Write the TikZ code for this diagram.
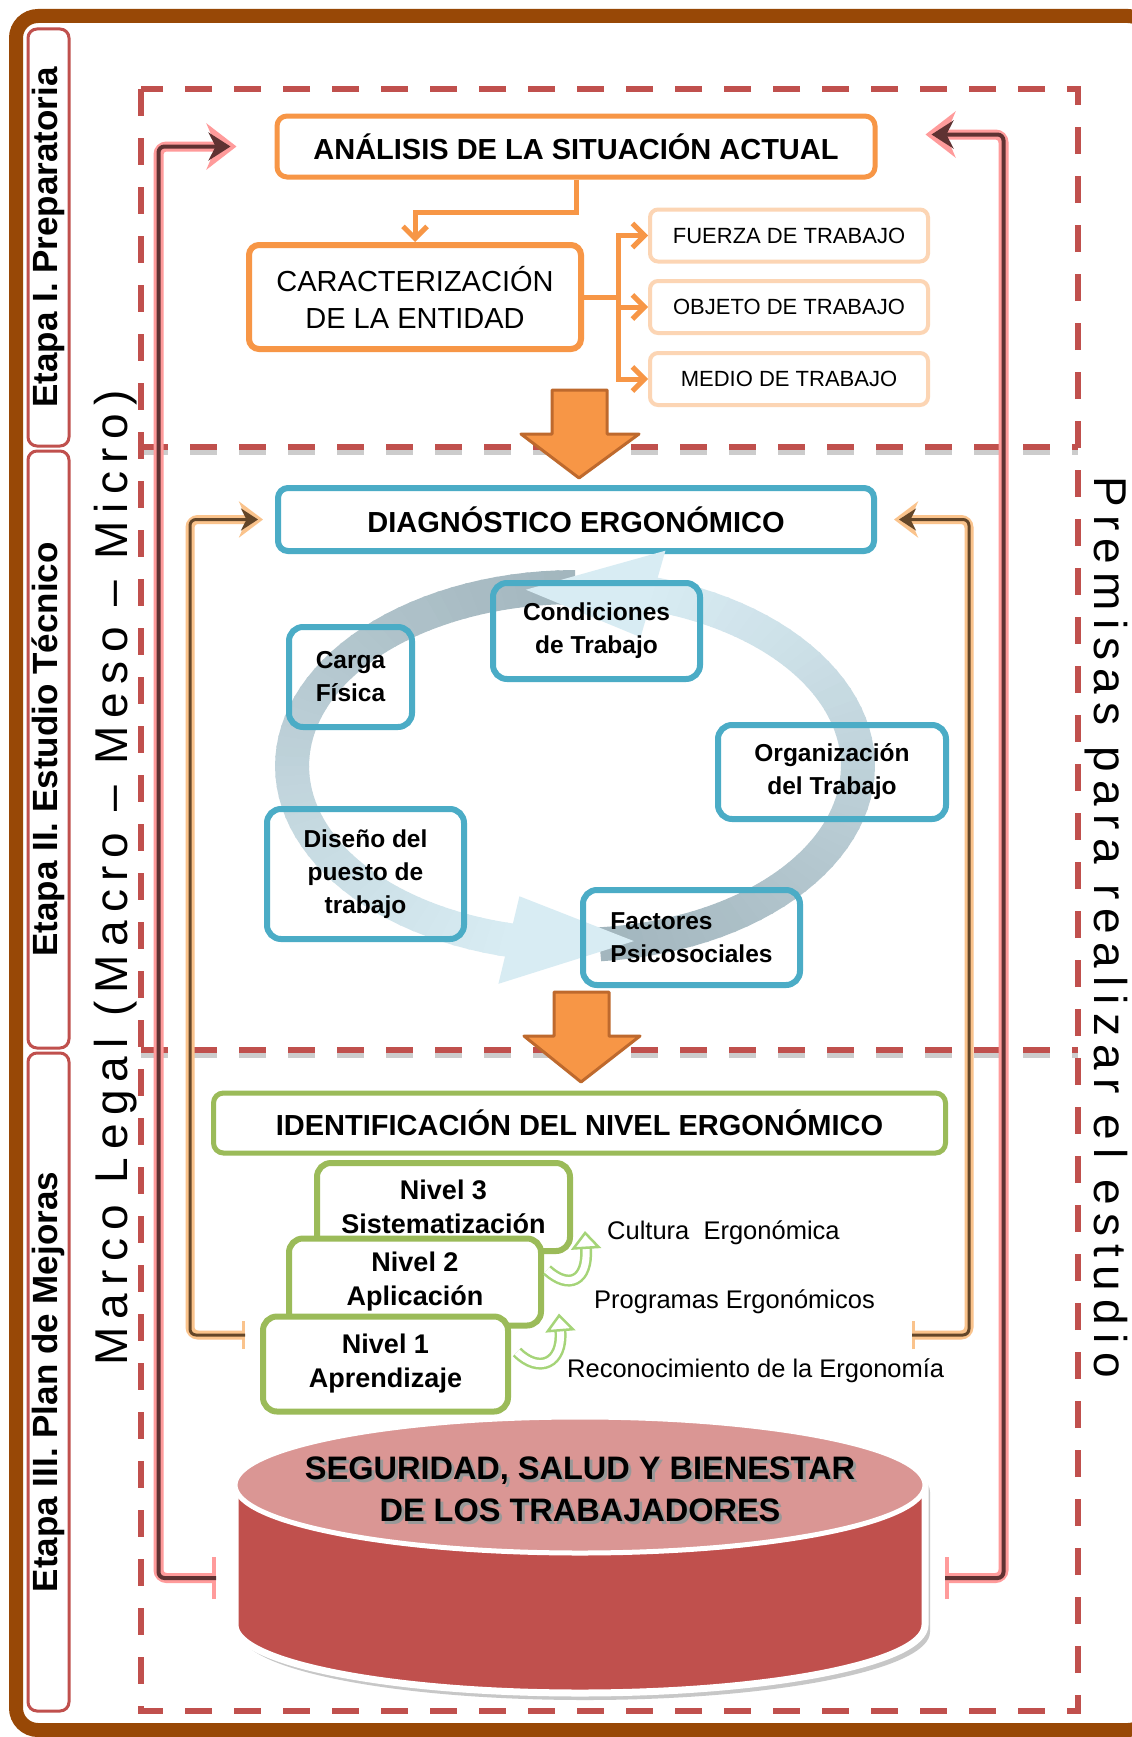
\documentclass[tikz,border=0pt]{standalone}
\usepackage{fontspec}
\setmainfont{Liberation Sans}
\newfontfamily\spacedfont[LetterSpace=18]{Liberation Sans}
\usepackage{tikz}
\usetikzlibrary{arrows.meta}
\usetikzlibrary{positioning}
\usetikzlibrary{calc}

\definecolor{FrameBrown}{RGB}{152,72,6}
\definecolor{DashRed}{RGB}{192,80,77}
\definecolor{OrangeMain}{RGB}{247,150,70}
\definecolor{OrangeSoft}{RGB}{252,213,180}
\definecolor{OrangeEdge}{RGB}{190,105,45}
\definecolor{BlueMain}{RGB}{75,172,198}
\definecolor{GreenMain}{RGB}{155,187,89}
\definecolor{GreenSoft}{RGB}{165,212,120}
\definecolor{PinkGlow}{RGB}{255,155,155}
\definecolor{PinkCore}{RGB}{95,50,50}
\definecolor{OrangeGlow}{RGB}{250,195,140}
\definecolor{OrangeCore}{RGB}{100,70,40}
\definecolor{RingDark}{RGB}{163,182,190}
\definecolor{RingLight}{RGB}{216,236,243}
\definecolor{CylTop}{RGB}{218,150,148}
\definecolor{CylBody}{RGB}{192,80,77}

\tikzstyle{stagebox} = [draw=DashRed, line width=3, rounded corners=9, rotate=90, minimum height=41, inner sep=0, font=\fontsize{35}{40}\selectfont\bfseries]
\tikzstyle{dashline} = [DashRed, line width=6, dash pattern=on 27pt off 22pt]
\tikzstyle{dashshadow} = [black!20, line width=6, dash pattern=on 27pt off 22pt]
\tikzstyle{headbox} = [line width=5, rounded corners=10, fill=white, inner sep=0, font=\fontsize{29}{35}\selectfont\bfseries]
\tikzstyle{softbox} = [draw=OrangeSoft, line width=4, rounded corners=8, fill=white, minimum width=278, minimum height=52, inner sep=0, font=\fontsize{22}{26}\selectfont]
\tikzstyle{cyclebox} = [draw=BlueMain, line width=6, rounded corners=14, inner sep=0, align=center, font=\fontsize{24.5}{33}\selectfont\bfseries]
\tikzstyle{nivelbox} = [draw=GreenMain, line width=6, rounded corners=14, fill=white, inner sep=0, align=center, font=\fontsize{27}{34}\selectfont\bfseries]
\tikzstyle{lvllabel} = [anchor=west, inner sep=0, font=\fontsize{25.5}{30}\selectfont]
\tikzstyle{lvlarrow} = [draw=GreenSoft, line width=2.5, double=white, double distance=7, -{Triangle[open, length=18pt, width=30pt]}]
\tikzstyle{orangeline} = [OrangeMain, line width=5]
\tikzstyle{orangearrow} = [orangeline, -{Straight Barb[length=12pt, width=24pt]}]
\tikzstyle{pinkglow} = [PinkGlow, line width=10, rounded corners=8]
\tikzstyle{pinkcore} = [PinkCore, line width=4, rounded corners=6]
\tikzstyle{orangeglow} = [OrangeGlow, line width=9, rounded corners=8]
\tikzstyle{orangecore} = [OrangeCore, line width=3, rounded corners=6]
\tikzstyle{blockarrow} = [fill=OrangeMain, draw=OrangeEdge, line width=3, line join=round]
\tikzstyle{bigtext} = [font=\spacedfont\fontsize{46}{54}\selectfont, inner sep=0, anchor=base]
\tikzstyle{cyltext} = [align=center, font=\fontsize{32.5}{42}\selectfont\bfseries]

\begin{document}
\begin{tikzpicture}[x=1pt, y=-1pt]
\useasboundingbox (0,0) rectangle (1132,1737);
\fill[white] (0,0) rectangle (1132,1737);

% marco exterior
\draw[FrameBrown, line width=14, rounded corners=22] (16,16) rectangle (1150,1730);

% etapas
\node[stagebox, minimum width=417] (etapa1) at (48.5,237.5) {Etapa I. Preparatoria};
\node[stagebox, minimum width=597] (etapa2) at (48.5,749.5) {Etapa II. Estudio Técnico};
\node[stagebox, minimum width=658] (etapa3) at (48.5,1382) {Etapa III. Plan de Mejoras};

% recuadro discontinuo
\draw[dashshadow] (141,452) -- (1078,452);
\draw[dashshadow] (141,1055) -- (1078,1055);
\draw[dashline] (141,89) rectangle (1078,1711);
\draw[dashline] (141,447) -- (1078,447);
\draw[dashline] (141,1050) -- (1078,1050);

\node[bigtext, rotate=90] (marco) at (127,878) {Marco Legal (Macro – Meso – Micro)};
\node[bigtext, rotate=-90] (premisas) at (1094,927) {Premisas para realizar el estudio};

% Etapa I
\node[headbox, draw=OrangeMain, minimum width=598, minimum height=61] (analisis) at (576,146.5) {ANÁLISIS DE LA SITUACIÓN ACTUAL};
\node[headbox, draw=OrangeMain, line width=6, minimum width=332, minimum height=104, align=center, font=\fontsize{29}{37}\selectfont] (carac) at (415,297) {CARACTERIZACIÓN\\DE LA ENTIDAD};
\node[softbox] (fuerza) at (789,235.5) {FUERZA DE TRABAJO};
\node[softbox] (objeto) at (789,307) {OBJETO DE TRABAJO};
\node[softbox] (medio) at (789,379) {MEDIO DE TRABAJO};

\draw[orangearrow] (analisis.south) -- ++(0,33) -| (carac.north);
\draw[orangeline] (carac.east) -- ++(34,0) coordinate (ramal);
\draw[orangearrow] (ramal) |- (fuerza.west);
\draw[orangearrow] (ramal) |- (objeto.west);
\draw[orangearrow] (ramal) |- (medio.west);

\filldraw[blockarrow] (552,390) -- (607,390) -- (607,434) -- (639,434) -- (579,478) -- (521,434) -- (552,434) -- cycle;

% Etapa II
\node[headbox, draw=BlueMain, line width=6, minimum width=596, minimum height=63] (diag) at (576,519.5) {DIAGNÓSTICO ERGONÓMICO};

% anillo
\foreach \a in {-85,-82,...,71} {
  \pgfmathtruncatemacro\p{(\a+85)/159*100}
  \fill[RingLight!\p!RingDark] ({575+300*cos(\a)},{766-196*sin(\a)}) -- ({575+300*cos(\a+3.5)},{766-196*sin(\a+3.5)})
    -- ({575+266*cos(\a+3.5)},{766-162*sin(\a+3.5)}) -- ({575+266*cos(\a)},{766-162*sin(\a)}) -- cycle;
}
\foreach \a in {90,93,...,255} {
  \pgfmathtruncatemacro\p{(\a-90)/165*100}
  \fill[RingLight!\p!RingDark] ({575+300*cos(\a)},{766-196*sin(\a)}) -- ({575+300*cos(\a+3.5)},{766-196*sin(\a+3.5)})
    -- ({575+266*cos(\a+3.5)},{766-162*sin(\a+3.5)}) -- ({575+266*cos(\a)},{766-162*sin(\a)}) -- cycle;
}
\fill[RingLight] ({575+328*cos(74)},{766-224*sin(74)}) -- ({575+283*cos(100)},{766-179*sin(100)}) -- ({575+238*cos(74)},{766-134*sin(74)}) -- cycle;
\fill[RingLight] ({575+328*cos(256.5)},{766-224*sin(256.5)}) -- ({575+283*cos(282)},{766-179*sin(282)}) -- ({575+238*cos(256.5)},{766-134*sin(256.5)}) -- cycle;

\node[cyclebox, minimum width=123, minimum height=100] (carga) at (350.5,677) {Carga\\Física};
\node[cyclebox, minimum width=207, minimum height=96] (condic) at (596.5,631) {Condiciones\\de Trabajo};
\node[cyclebox, minimum width=228, minimum height=94] (organiz) at (832,772) {Organización\\del Trabajo};
\node[cyclebox, minimum width=197, minimum height=130] (diseno) at (365.5,874) {Diseño del\\puesto de\\trabajo};
\node[cyclebox, minimum width=217, minimum height=95, align=left] (factores) at (691.5,937.5) {Factores\\Psicosociales};

\filldraw[blockarrow] (554,992) -- (609,992) -- (609,1036) -- (640,1036) -- (581,1082) -- (524,1036) -- (554,1036) -- cycle;

% Etapa III
\node[headbox, draw=GreenMain, minimum width=732, minimum height=60] (ident) at (579.5,1123) {IDENTIFICACIÓN DEL NIVEL ERGONÓMICO};
\node[nivelbox, minimum width=253, minimum height=88] (nivel3) at (443.5,1207) {Nivel 3\\Sistematización};
\node[nivelbox, minimum width=252, minimum height=87] (nivel2) at (415,1282) {Nivel 2\\Aplicación};
\node[nivelbox, minimum width=245, minimum height=95] (nivel1) at (385.5,1364) {Nivel 1\\Aprendizaje};

\draw[lvlarrow] ($(nivel1.east)+(6,-12)$) .. controls +(22,22) and +(4,50) .. ($(nivel2.south east)+(15,-15)$);
\draw[lvlarrow] ($(nivel2.east)+(3,-12)$) .. controls +(22,20) and +(3,50) .. ($(nivel3.south east)+(12,-23)$);

\node[lvllabel] (cultura) at (607,1233) {Cultura\ \ Ergonómica};
\node[lvllabel] (programas) at (594,1302) {Programas Ergonómicos};
\node[lvllabel] (reconoc) at (567,1371) {Reconocimiento de la Ergonomía};

% cilindro
\begin{scope}[shift={(5,7)}]
  \fill[black!22] (235,1485) arc[start angle=180, end angle=360, x radius=345, y radius=68] -- (925,1625) arc[start angle=0, end angle=180, x radius=345, y radius=68] -- cycle;
\end{scope}
\fill[CylBody] (235,1485) -- (235,1625) arc[start angle=180, end angle=0, x radius=345, y radius=68] -- (925,1485) -- cycle;
\draw[white, line width=7] (235,1485) arc[start angle=180, end angle=360, x radius=345, y radius=68] -- (925,1625) arc[start angle=0, end angle=180, x radius=345, y radius=68] -- cycle;
\filldraw[fill=CylTop, draw=white, line width=5] (580,1485) ellipse [x radius=345, y radius=68];
\node[cyltext, text=black!40] (bienestarSombra) at (583,1492) {SEGURIDAD, SALUD Y BIENESTAR\\DE LOS TRABAJADORES};
\node[cyltext] (bienestar) at (580,1489) {SEGURIDAD, SALUD Y BIENESTAR\\DE LOS TRABAJADORES};

\coordinate (cylL) at (216,1578);
\coordinate (cylR) at (945,1578);
\coordinate (nivL) at (245,1335);
\coordinate (nivR) at (912,1335);

% retroalimentacion
\draw[pinkglow, {Bar[width=42pt, line width=4pt]}-{Stealth[length=30pt, width=46pt]}] (cylL) -| ($(analisis.west)+(-116,0)$) -- ($(analisis.west)+(-38,0)$);
\draw[pinkcore, -{Stealth[length=22pt, width=28pt]}] (cylL) -| ($(analisis.west)+(-116,0)$) -- ($(analisis.west)+(-44,0)$);
\draw[pinkglow, {Bar[width=42pt, line width=4pt]}-{Stealth[length=30pt, width=46pt]}] (cylR) -| ($(analisis.east)+(126,-12)$) -- ($(analisis.east)+(48,-12)$);
\draw[pinkcore, -{Stealth[length=22pt, width=28pt]}] (cylR) -| ($(analisis.east)+(126,-12)$) -- ($(analisis.east)+(54,-12)$);

\draw[orangeglow, {Bar[width=28pt, line width=3pt]}-{Stealth[length=24pt, width=36pt]}] (nivL) -| ($(diag.west)+(-85,0)$) -- ($(diag.west)+(-12,0)$);
\draw[orangecore, -{Stealth[length=17pt, width=22pt]}] (nivL) -| ($(diag.west)+(-85,0)$) -- ($(diag.west)+(-17,0)$);
\draw[orangeglow, {Bar[width=28pt, line width=3pt]}-{Stealth[length=24pt, width=36pt]}] (nivR) -| ($(diag.east)+(92,0)$) -- ($(diag.east)+(17,0)$);
\draw[orangecore, -{Stealth[length=17pt, width=22pt]}] (nivR) -| ($(diag.east)+(92,0)$) -- ($(diag.east)+(22,0)$);
\end{tikzpicture}
\end{document}
